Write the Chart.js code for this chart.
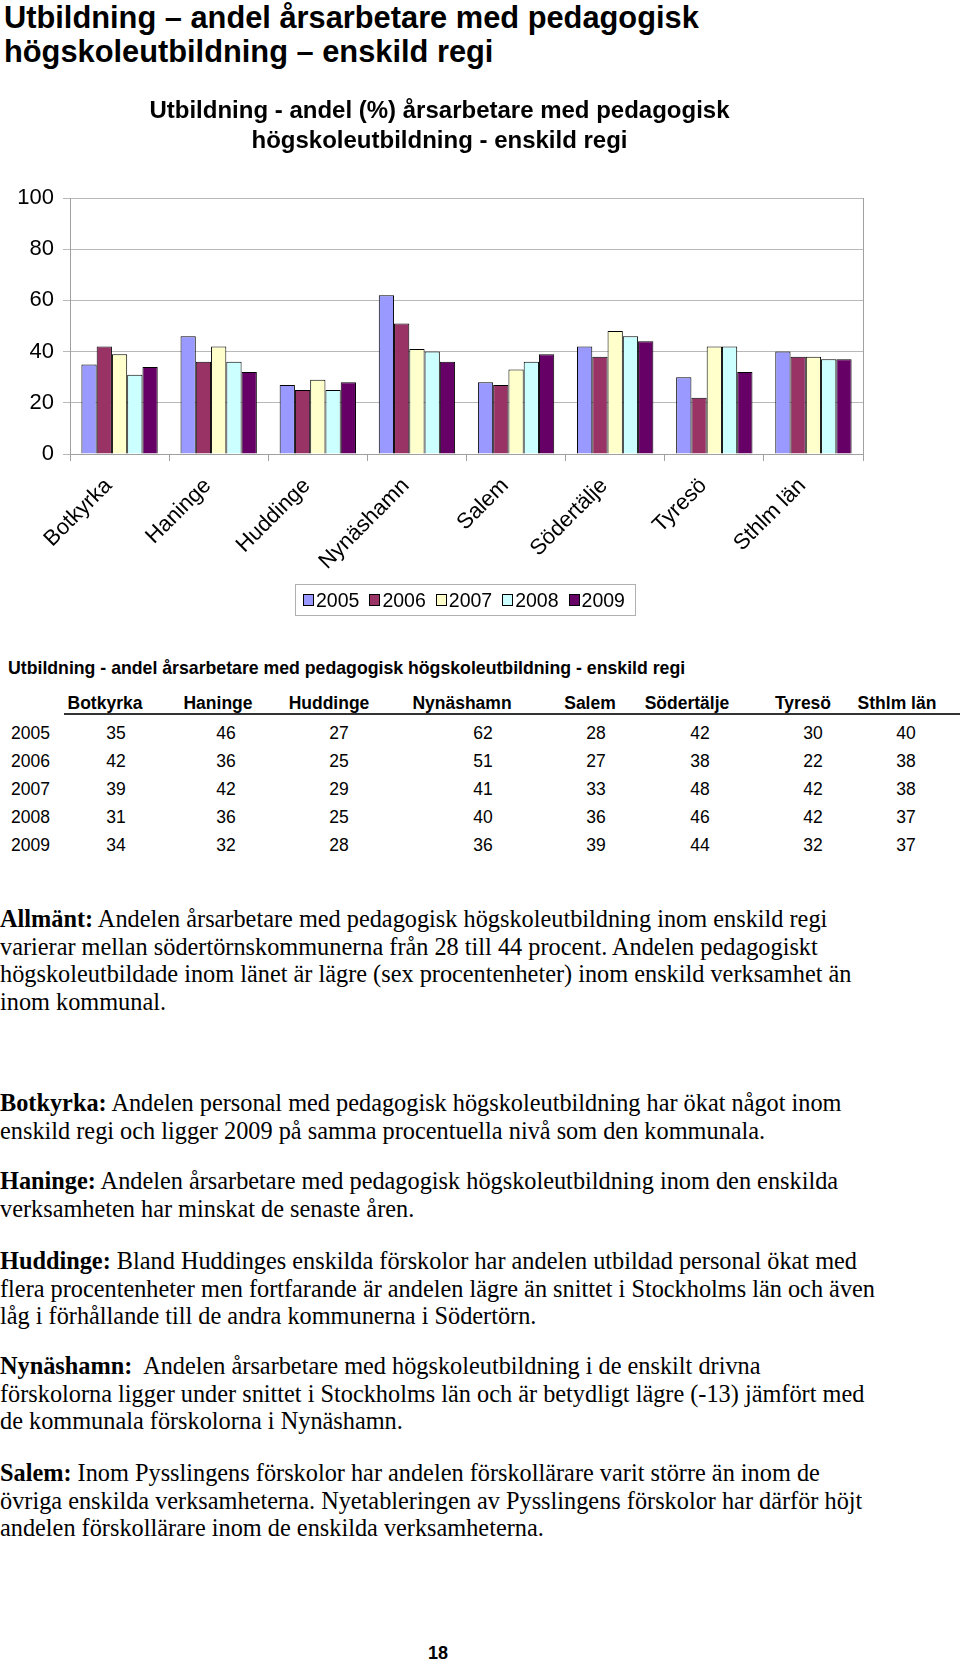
<!DOCTYPE html>
<html>
<head>
<meta charset="utf-8">
<script src="https://cdn.jsdelivr.net/npm/chart.js@4.4.0/dist/chart.umd.min.js"></script>
<style>
  body { margin: 0; width: 960px; height: 1665px; background: #fff; position: relative; overflow: hidden;
         font-family: "Liberation Sans", Arial, sans-serif; color: #000; }
  .abs { position: absolute; white-space: nowrap; }
  #pageTitle { left: 4px; top: 1px; font-size: 30.8px; font-weight: bold; line-height: 33.5px; }
  #chartBox { position: absolute; left: 16px; top: 88px; width: 944px; height: 540px; }
  #legend { position: absolute; left: 295px; top: 584px; width: 341px; height: 32px; box-sizing: border-box;
            border: 1px solid #b0b0b0; display: flex; align-items: center; padding-left: 7px; }
  .lgItem { display: flex; align-items: center; margin-right: 10px; font-size: 19.5px; line-height: 22px; }
  .lgBox { width: 11px; height: 12px; box-sizing: border-box; border: 1px solid #000; margin-right: 2px; }
  #tblTitle { left: 8px; top: 658px; font-size: 17.7px; font-weight: bold; line-height: 20px; }
  .cell { position: absolute; white-space: nowrap; font-size: 17.5px; line-height: 20px; transform: translateX(-50%); }
  .hdr { font-weight: bold; }
  #tblLine { position: absolute; left: 64px; top: 713px; width: 896px; height: 2px; background: #333; }
  .para { position: absolute; left: 0; white-space: nowrap; font-family: "Liberation Serif", "Times New Roman", serif;
          font-size: 24.3px; line-height: 27.6px; }
  #pageNo { left: 428px; top: 1642px; font-size: 18px; font-weight: bold; line-height: 22px; }
</style>
</head>
<body>
<div id="pageTitle" class="abs">Utbildning – andel årsarbetare med pedagogisk<br>högskoleutbildning – enskild regi</div>

<div id="chartBox"><canvas id="barChart"></canvas></div>
<div id="legend"></div>

<div id="tblTitle" class="abs">Utbildning - andel årsarbetare med pedagogisk högskoleutbildning - enskild regi</div>
<div id="tblLine"></div>
<div id="table"></div>

<div class="para" style="top:905px"><b>Allmänt:</b> Andelen årsarbetare med pedagogisk högskoleutbildning inom enskild regi<br>varierar mellan södertörnskommunerna från 28 till 44 procent. Andelen pedagogiskt<br>högskoleutbildade inom länet är lägre (sex procentenheter) inom enskild verksamhet än<br>inom kommunal.</div>

<div class="para" style="top:1089px"><b>Botkyrka:</b> Andelen personal med pedagogisk högskoleutbildning har ökat något inom<br>enskild regi och ligger 2009 på samma procentuella nivå som den kommunala.</div>

<div class="para" style="top:1167px"><b>Haninge:</b> Andelen årsarbetare med pedagogisk högskoleutbildning inom den enskilda<br>verksamheten har minskat de senaste åren.</div>

<div class="para" style="top:1247px"><b>Huddinge:</b> Bland Huddinges enskilda förskolor har andelen utbildad personal ökat med<br>flera procentenheter men fortfarande är andelen lägre än snittet i Stockholms län och även<br>låg i förhållande till de andra kommunerna i Södertörn.</div>

<div class="para" style="top:1352px"><b>Nynäshamn:</b>&nbsp; Andelen årsarbetare med högskoleutbildning i de enskilt drivna<br>förskolorna ligger under snittet i Stockholms län och är betydligt lägre (-13) jämfört med<br>de kommunala förskolorna i Nynäshamn.</div>

<div class="para" style="top:1459px"><b>Salem:</b> Inom Pysslingens förskolor har andelen förskollärare varit större än inom de<br>övriga enskilda verksamheterna. Nyetableringen av Pysslingens förskolor har därför höjt<br>andelen förskollärare inom de enskilda verksamheterna.</div>

<div id="pageNo" class="abs">18</div>

<script>
// chart data
const categories = ['Botkyrka', 'Haninge', 'Huddinge', 'Nynäshamn', 'Salem', 'Södertälje', 'Tyresö', 'Sthlm län'];
const years = ['2005', '2006', '2007', '2008', '2009'];
const values2005 = [35, 46, 27, 62, 28, 42, 30, 40];
const values2006 = [42, 36, 25, 51, 27, 38, 22, 38];
const values2007 = [39, 42, 29, 41, 33, 48, 42, 38];
const values2008 = [31, 36, 25, 40, 36, 46, 42, 37];
const values2009 = [34, 32, 28, 36, 39, 44, 32, 37];
const yTicks = [0, 20, 40, 60, 80, 100];

const seriesValues = [values2005, values2006, values2007, values2008, values2009];
const barColors = ['#9999ff', '#993366', '#ffffcc', '#ccffff', '#660066'];

// table layout (x centres of the columns)
const headerX = [105, 218, 329, 462, 590, 687, 803, 897];
const valueX = [116, 226, 339, 483, 596, 700, 813, 906];

function buildTable() {
    const table = document.getElementById('table');
    let html = '';
    categories.forEach((c, i) => {
        html += `<div class="cell hdr" style="left:${headerX[i]}px;top:693px">${c}</div>`;
    });
    years.forEach((y, r) => {
        const top = 723 + r * 28;
        html += `<div class="cell" style="left:11px;top:${top}px;transform:none">${y}</div>`;
        seriesValues[r].forEach((v, i) => {
            html += `<div class="cell" style="left:${valueX[i]}px;top:${top}px">${v}</div>`;
        });
    });
    table.innerHTML = html;
}

// Excel style legend: boxed, tight key squares
function buildLegend() {
    document.getElementById('legend').innerHTML = years.map((y, i) =>
        `<div class="lgItem"><div class="lgBox" style="background:${barColors[i]}"></div>${y}</div>`
    ).join('');
}

// right edge of the plot area
const framePlugin = {
    id: 'frame',
    afterDraw(chart) {
        const ctx = chart.ctx;
        const a = chart.chartArea;
        ctx.save();
        ctx.strokeStyle = '#a0a0a0';
        ctx.lineWidth = 1;
        ctx.beginPath();
        ctx.moveTo(Math.round(a.right) + 0.5, a.top);
        ctx.lineTo(Math.round(a.right) + 0.5, a.bottom + 7);
        ctx.stroke();
        ctx.restore();
    }
};

Chart.defaults.font.family = '"Liberation Sans", Arial, sans-serif';
Chart.defaults.color = '#000';

const ctx = document.getElementById('barChart').getContext('2d');
new Chart(ctx, {
    type: 'bar',
    data: {
        labels: categories,
        datasets: years.map((y, i) => ({
            label: y,
            data: seriesValues[i],
            backgroundColor: barColors[i],
            borderColor: '#000',
            borderWidth: 1,
            categoryPercentage: 0.77,
            barPercentage: 1.0
        }))
    },
    options: {
        responsive: true,
        maintainAspectRatio: false,
        animation: false,
        devicePixelRatio: 1,
        layout: { padding: { left: 0, right: 97, top: 0, bottom: 40 } },
        plugins: {
            title: {
                display: true,
                text: ['Utbildning - andel (%) årsarbetare med pedagogisk', 'högskoleutbildning - enskild regi'],
                font: { size: 24, weight: 'bold', lineHeight: 1.25 },
                color: '#000',
                padding: { top: 8, bottom: 42 }
            },
            legend: { display: false },
            tooltip: { enabled: false }
        },
        scales: {
            x: {
                grid: { offset: true, drawOnChartArea: false, tickLength: 7, color: '#a0a0a0' },
                border: { color: '#a0a0a0' },
                ticks: { minRotation: 45, maxRotation: 45, font: { size: 22 }, color: '#000', padding: 12, labelOffset: -11 },
                afterFit(s) { s.height = 134; }
            },
            y: {
                min: 0,
                max: 100,
                afterBuildTicks(s) { s.ticks = yTicks.map(v => ({ value: v })); },
                ticks: { font: { size: 22 }, color: '#000', padding: 9 },
                grid: { color: '#b8b8b8', tickLength: 7 },
                border: { color: '#a0a0a0' },
                afterFit(s) { s.width = 54; }
            }
        }
    },
    plugins: [framePlugin]
});

buildLegend();
buildTable();
</script>
</body>
</html>
